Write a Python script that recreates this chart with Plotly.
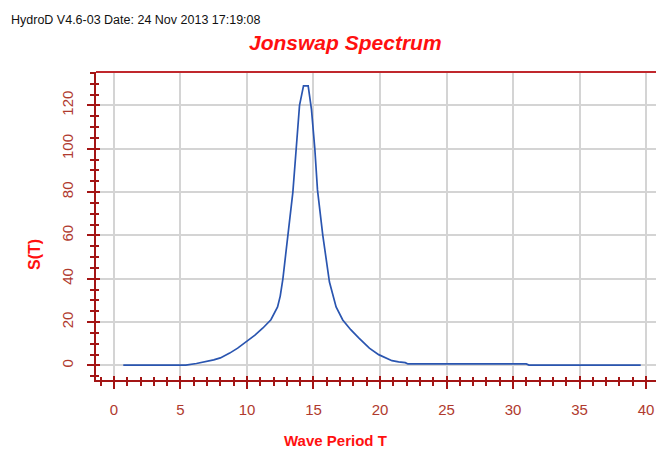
import plotly.graph_objects as go

# Data
period_T = [0.7, 5.4, 6.2, 7.0, 7.5, 8.0, 8.7, 9.3, 10.0, 10.6, 11.2, 11.8, 12.3, 12.5,
            12.7, 12.95, 13.1, 13.45, 13.7, 13.95, 14.25, 14.6, 14.85, 15.1, 15.3, 15.7,
            16.2, 16.7, 17.2, 17.8, 18.4, 19.2, 19.9, 20.5, 20.9, 21.4, 21.9, 22.1,
            31.0, 31.2, 39.6]
spectrum_S = [0.2, 0.2, 0.9, 1.8, 2.6, 3.5, 5.7, 8.0, 11.1, 14.0, 17.3, 21.1, 27.0, 32.0,
              40.0, 53.0, 60.0, 80.0, 100.0, 120.0, 129.0, 129.0, 118.0, 100.0, 81.0, 60.0,
              38.5, 27.0, 21.0, 16.5, 12.7, 8.0, 5.0, 3.3, 2.2, 1.7, 1.3, 0.7,
              0.7, 0.2, 0.2]
x_ticks = [0, 5, 10, 15, 20, 25, 30, 35, 40]
y_ticks = [0, 20, 40, 60, 80, 100, 120]

AX = "#a31515"
LBL = "#b03a2e"
FONT = "Liberation Sans, Arial, sans-serif"
XR = [-1.35, 41.35]
YR = [-6.7, 135.4]

fig = go.Figure()
fig.add_trace(go.Scatter(x=period_T, y=spectrum_S, mode="lines",
                         line=dict(color="#2a55b0", width=1.7), showlegend=False))
# invisible trace on overlay axes so they render
fig.add_trace(go.Scatter(x=[None], y=[None], xaxis="x2", yaxis="y2", showlegend=False))

fig.update_layout(
    width=656, height=442,
    margin=dict(l=88, r=0, t=64, b=70),
    paper_bgcolor="white", plot_bgcolor="white",
    font=dict(family=FONT),
    xaxis=dict(range=XR, tickvals=x_ticks, showgrid=True, gridcolor="#d4d4d4", gridwidth=1.5,
               zeroline=False, showline=True, linecolor=AX, linewidth=2,
               ticks="outside", ticklen=7, tickwidth=1.5, tickcolor=AX,
               minor=dict(dtick=1, tick0=0, ticks="outside", ticklen=4, tickwidth=1.5,
                          tickcolor=AX, showgrid=False),
               tickfont=dict(size=15, color=LBL, family=FONT), ticklabelstandoff=8,
               mirror=False),
    yaxis=dict(range=YR, tickvals=y_ticks, showgrid=True, gridcolor="#d4d4d4", gridwidth=1.5,
               zeroline=False, showline=True, linecolor=AX, linewidth=2,
               ticks="outside", ticklen=7, tickwidth=1.5, tickcolor=AX,
               minor=dict(dtick=5, tick0=0, ticks="outside", ticklen=4, tickwidth=1.5,
                          tickcolor=AX, showgrid=False),
               tickangle=-90,
               tickfont=dict(size=15, color=LBL, family=FONT), ticklabelstandoff=8),
    xaxis2=dict(range=XR, overlaying="x", tickvals=x_ticks, showticklabels=False,
                showgrid=False, zeroline=False, showline=False,
                ticks="inside", ticklen=4, tickwidth=1.5, tickcolor=AX,
                minor=dict(dtick=1, tick0=0, ticks="inside", ticklen=3, tickwidth=1.5,
                           tickcolor=AX, showgrid=False)),
    yaxis2=dict(range=YR, overlaying="y", tickvals=y_ticks, showticklabels=False,
                showgrid=False, zeroline=False, showline=False,
                ticks="inside", ticklen=4, tickwidth=1.5, tickcolor=AX,
                minor=dict(dtick=5, tick0=0, ticks="inside", ticklen=3, tickwidth=1.5,
                           tickcolor=AX, showgrid=False)),
    shapes=[dict(type="line", xref="paper", yref="paper", x0=0, x1=1, y0=1, y1=1,
                 line=dict(color="#c0282d", width=2))],
    annotations=[
        dict(text="HydroD V4.6-03 Date: 24 Nov 2013 17:19:08", xref="paper", yref="paper",
             x=(9-96)/568, y=1+(72-20)/308, xanchor="left", yanchor="middle", showarrow=False,
             font=dict(size=12.5, color="#111111", family=FONT)),
        dict(text="<b><i>Jonswap Spectrum</i></b>", xref="paper", yref="paper",
             x=(345-96)/568, y=1+(72-42)/308, xanchor="center", yanchor="middle",
             showarrow=False, font=dict(size=21, color="#ff1010", family=FONT)),
        dict(text="<b>S(T)</b>", xref="paper", yref="paper",
             x=(35-96)/568, y=(380-255)/308, xanchor="center", yanchor="middle",
             textangle=-90, showarrow=False, font=dict(size=16, color="#ff1010", family=FONT)),
        dict(text="<b>Wave Period T</b>", xref="paper", yref="paper",
             x=(335-96)/568, y=-(440-380)/308, xanchor="center", yanchor="middle",
             showarrow=False, font=dict(size=15, color="#ff1010", family=FONT)),
    ],
)

fig.write_html("out.html")
